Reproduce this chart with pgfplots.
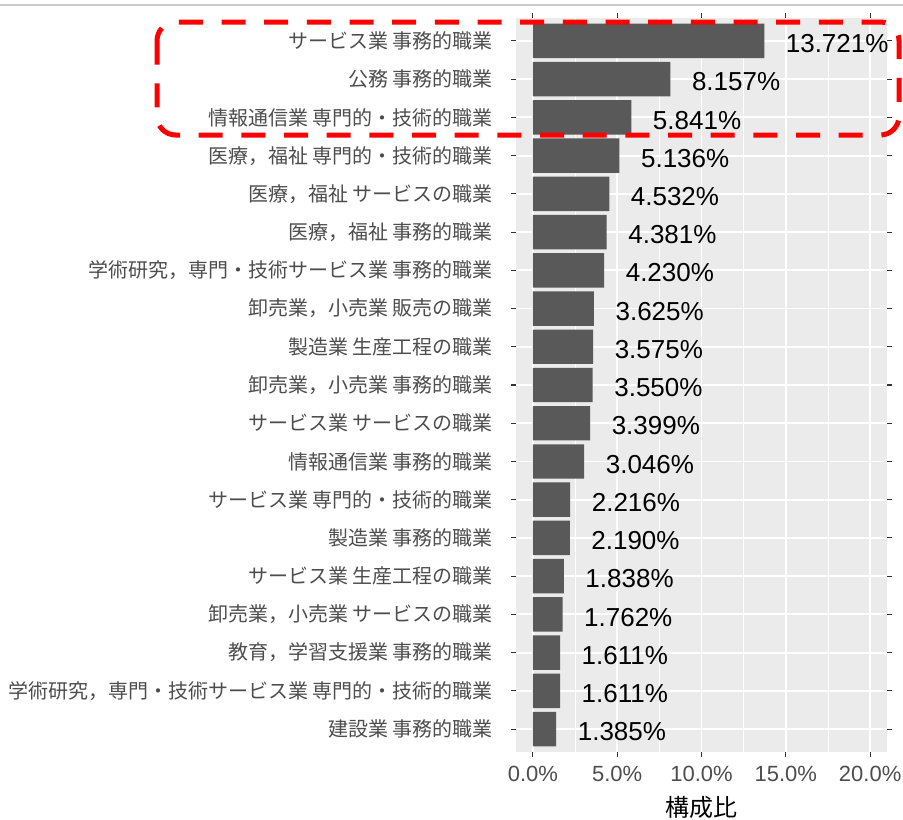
\documentclass[border=0pt]{standalone}
\usepackage{fontspec}
\setmainfont{Liberation Sans}
\newfontfamily\jp{Noto Sans CJK JP}
\usepackage{pgfplots}
\pgfplotsset{compat=1.18}

\definecolor{panel}{HTML}{EBEBEB}
\definecolor{barfill}{HTML}{595959}
\definecolor{axtext}{HTML}{4D4D4D}
\definecolor{tickcol}{HTML}{333333}

% 1 px of the 903x819 reference = 0.75pt; origin top-left, y down = negative
\begin{document}
\begin{tikzpicture}
  \path[use as bounding box] (0pt,0pt) rectangle (677.25pt,-614.25pt);
  \draw[color=black!20, line width=1.2pt] (0pt,-3.75pt) -- (677.25pt,-3.75pt);

  \begin{axis}[
      at={(387pt,-564pt)}, anchor=south west,
      scale only axis,
      width=278.25pt, height=550.5pt,
      xbar, bar width=0.9,
      xmin=-1, xmax=21,
      ymin=0.4, ymax=19.6,
      axis background/.style={fill=panel},
      axis line style={draw=none},
      tick align=outside,
      major tick length=4pt,
      tick style={color=tickcol, line width=0.8pt},
      xtick={0,5,10,15,20},
      xticklabels={0.0\%,5.0\%,10.0\%,15.0\%,20.0\%},
      minor xtick={2.5,7.5,12.5,17.5},
      minor tick length=0pt,
      xmajorgrids, xminorgrids, ymajorgrids,
      major grid style={white, line width=1.4pt},
      minor grid style={white, line width=0.7pt},
      ytick={1,...,19},
      yticklabels={
        建設業 事務的職業,
        学術研究，専門・技術サービス業 専門的・技術的職業,
        教育，学習支援業 事務的職業,
        卸売業，小売業 サービスの職業,
        サービス業 生産工程の職業,
        製造業 事務的職業,
        サービス業 専門的・技術的職業,
        情報通信業 事務的職業,
        サービス業 サービスの職業,
        卸売業，小売業 事務的職業,
        製造業 生産工程の職業,
        卸売業，小売業 販売の職業,
        学術研究，専門・技術サービス業 事務的職業,
        医療，福祉 事務的職業,
        医療，福祉 サービスの職業,
        医療，福祉 専門的・技術的職業,
        情報通信業 専門的・技術的職業,
        公務 事務的職業,
        サービス業 事務的職業},
      yticklabel style={font=\jp\fontsize{15}{16}\selectfont, text=axtext, xshift=-10pt},
      xticklabel style={font=\fontsize{16.5}{18}\selectfont, text=axtext, yshift=-3pt},
      xlabel={構成比},
      xlabel style={font=\jp\fontsize{18}{20}\selectfont, text=black, yshift=-4pt},
      /pgf/number format/assume math mode=true,
      point meta=x,
      nodes near coords={\pgfmathprintnumber[fixed,fixed zerofill,precision=3]{\pgfplotspointmeta}\%},
      nodes near coords align=horizontal,
      every node near coord/.append style={anchor=west, inner sep=0pt, xshift=16pt, yshift=-2pt,
        font=\fontsize{19.5}{21}\selectfont, text=black},
    ]
    \addplot[fill=barfill, draw=none] coordinates {
      (1.385,1) (1.611,2) (1.611,3) (1.762,4) (1.838,5)
      (2.190,6) (2.216,7) (3.046,8) (3.399,9) (3.550,10)
      (3.575,11) (3.625,12) (4.230,13) (4.381,14) (4.532,15)
      (5.136,16) (5.841,17) (8.157,18) (13.721,19)};
  \end{axis}

  \draw[color=red, line width=3.75pt, dash pattern=on 18pt off 14pt, rounded corners=14pt]
    (117.75pt,-16.5pt) rectangle (674.25pt,-101.25pt);
\end{tikzpicture}
\end{document}
